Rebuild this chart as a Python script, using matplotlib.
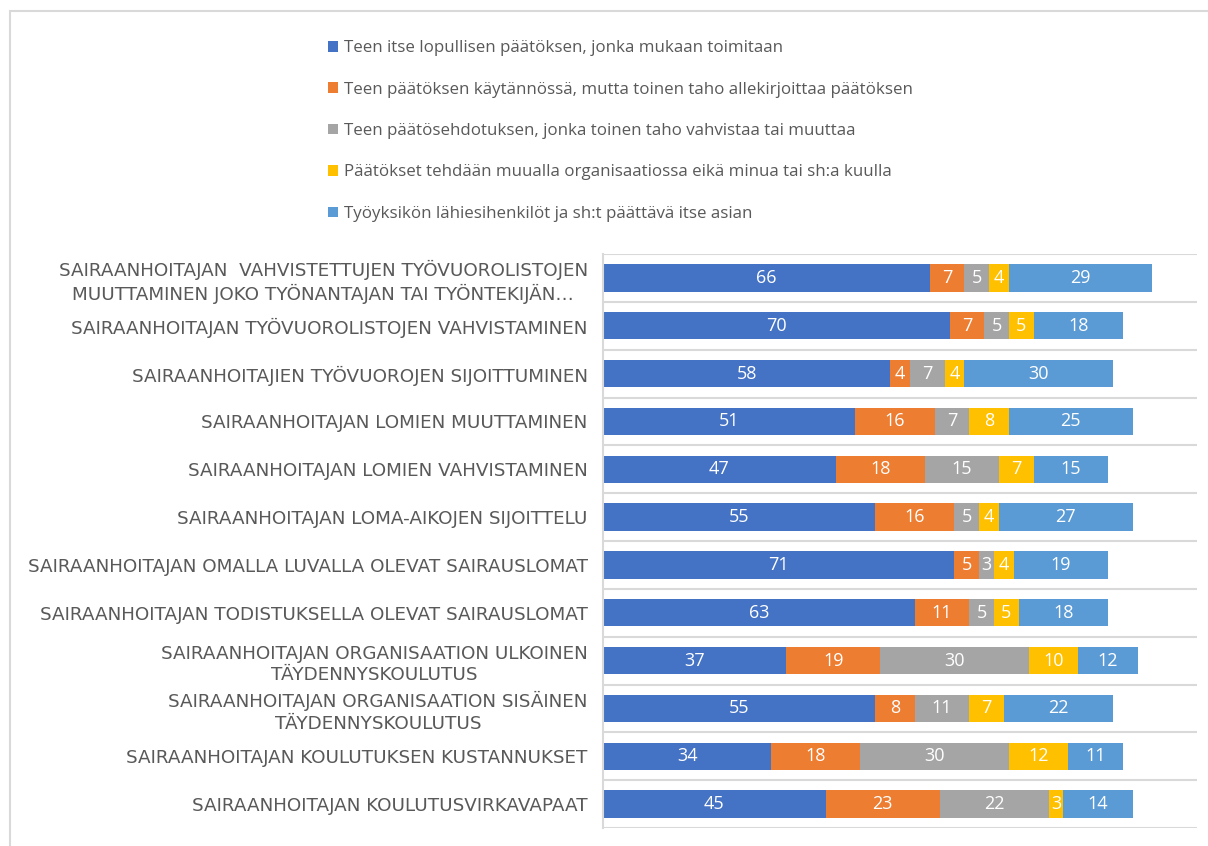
import matplotlib
matplotlib.use("Agg")
import matplotlib.pyplot as plt
from matplotlib.patches import Rectangle
import numpy as np

categories = [
    "SAIRAANHOITAJAN  VAHVISTETTUJEN TYÖVUOROLISTOJEN\nMUUTTAMINEN JOKO TYÖNANTAJAN TAI TYÖNTEKIJÄN…",
    "SAIRAANHOITAJAN TYÖVUOROLISTOJEN VAHVISTAMINEN",
    "SAIRAANHOITAJIEN TYÖVUOROJEN SIJOITTUMINEN",
    "SAIRAANHOITAJAN LOMIEN MUUTTAMINEN",
    "SAIRAANHOITAJAN LOMIEN VAHVISTAMINEN",
    "SAIRAANHOITAJAN LOMA-AIKOJEN SIJOITTELU",
    "SAIRAANHOITAJAN OMALLA LUVALLA OLEVAT SAIRAUSLOMAT",
    "SAIRAANHOITAJAN TODISTUKSELLA OLEVAT SAIRAUSLOMAT",
    "SAIRAANHOITAJAN ORGANISAATION ULKOINEN\nTÄYDENNYSKOULUTUS",
    "SAIRAANHOITAJAN ORGANISAATION SISÄINEN\nTÄYDENNYSKOULUTUS",
    "SAIRAANHOITAJAN KOULUTUKSEN KUSTANNUKSET",
    "SAIRAANHOITAJAN KOULUTUSVIRKAVAPAAT",
]

series_names = [
    "Teen itse lopullisen päätöksen, jonka mukaan toimitaan",
    "Teen päätöksen käytännössä, mutta toinen taho allekirjoittaa päätöksen",
    "Teen päätösehdotuksen, jonka toinen taho vahvistaa tai muuttaa",
    "Päätökset tehdään muualla organisaatiossa eikä minua tai sh:a kuulla",
    "Työyksikön lähiesihenkilöt ja sh:t päättävä itse asian",
]

itse_lopullinen = [66, 70, 58, 51, 47, 55, 71, 63, 37, 55, 34, 45]
kaytannossa = [7, 7, 4, 16, 18, 16, 5, 11, 19, 8, 18, 23]
ehdotus = [5, 5, 7, 7, 15, 5, 3, 5, 30, 11, 30, 22]
muualla = [4, 5, 4, 8, 7, 4, 4, 5, 10, 7, 12, 3]
lahiesihenkilot = [29, 18, 30, 25, 15, 27, 19, 18, 12, 22, 11, 14]

colors = ["#4472C4", "#ED7D31", "#A5A5A5", "#FFC000", "#5B9BD5"]

fig = plt.figure(figsize=(12.08, 8.46), dpi=100)
fig.patch.set_facecolor("white")

# chart frame (only top and left edges visible in the crop)
fig.patches.append(Rectangle((10 / 1208, -0.1), 1.2, 0.1 + (846 - 11) / 846,
                             transform=fig.transFigure, fill=False,
                             edgecolor="#D9D9D9", lw=1.5))

ax = fig.add_axes([603 / 1208, 1 - 828 / 846, (1197 - 603) / 1208, (828 - 254) / 846])

y = np.arange(len(categories))
left = np.zeros(len(categories))
handles = []
for vals, col, name in zip([itse_lopullinen, kaytannossa, ehdotus, muualla, lahiesihenkilot],
                           colors, series_names):
    bars = ax.barh(y, vals, left=left, height=0.57, color=col, label=name)
    ax.bar_label(bars, labels=[str(v) for v in vals], label_type="center",
                 color="white", fontsize=13, family="Open Sans")
    handles.append(bars)
    left += np.array(vals)

ax.set_xlim(0, 120)
ax.set_ylim(len(categories) - 0.5, -0.5)
ax.set_xticks([])
ax.set_yticks(y)
ax.set_yticklabels(categories, fontsize=13.2, color="#595959", family="DejaVu Sans",
                   multialignment="center", linespacing=1.25)
ax.set_yticks(np.arange(len(categories) + 1) - 0.5, minor=True)
ax.tick_params(axis="y", which="both", length=0, pad=11)
ax.grid(True, axis="y", which="minor", color="#D9D9D9", lw=1.5)
ax.set_axisbelow(True)
for s in ["top", "right", "bottom"]:
    ax.spines[s].set_visible(False)
ax.spines["left"].set_color("#D9D9D9")
ax.spines["left"].set_linewidth(1.5)

leg = fig.legend(handles=handles, labels=series_names, loc="upper left",
                 bbox_to_anchor=(313 / 1208, 1 - 25 / 846), frameon=False,
                 handlelength=0.6, handleheight=0.6, handletextpad=0.35,
                 labelspacing=1.5, prop={"family": "Open Sans", "size": 12.2})
for t in leg.get_texts():
    t.set_color("#595959")

fig.savefig("out.png", dpi=100, facecolor="white")
